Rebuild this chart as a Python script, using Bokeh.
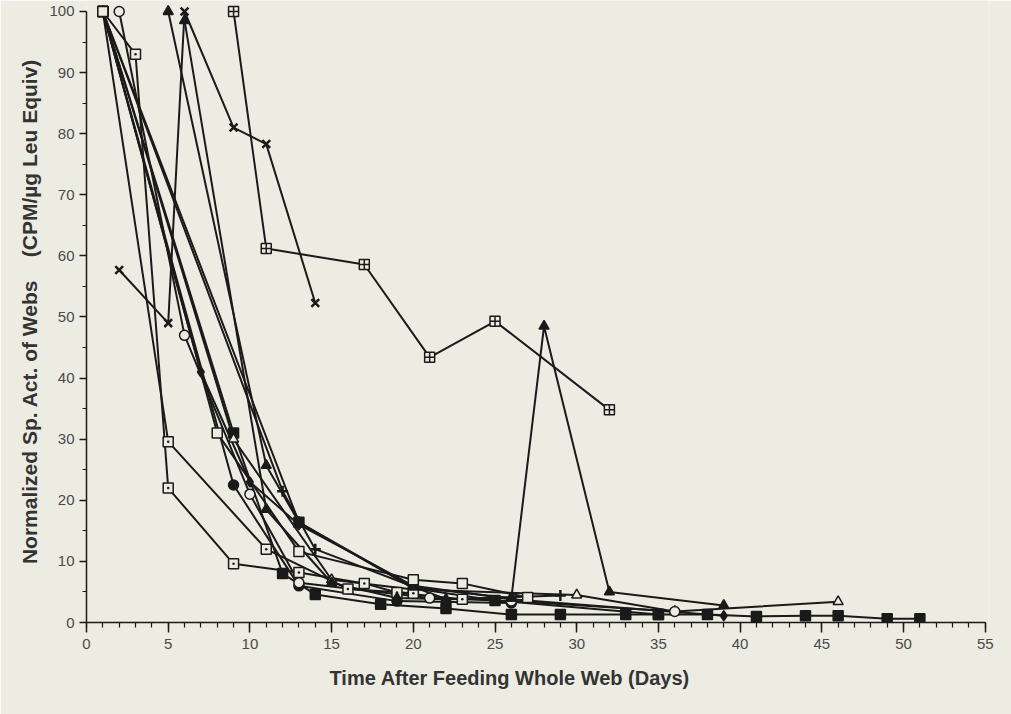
from bokeh.plotting import figure
from bokeh.models import Range1d, SingleIntervalTicker
from bokeh.embed import file_html
from bokeh.resources import INLINE

# ---- data ----
open_sq_x = [1, 8, 13, 20, 23, 27]
open_sq_y = [100, 31, 11.6, 7, 6.4, 4.1]

filled_sq_a_x = [1, 9, 12, 14, 18, 22, 26, 29, 33, 35]
filled_sq_a_y = [100, 31, 8, 4.6, 3, 2.3, 1.3, 1.3, 1.3, 1.3]

filled_sq_b_x = [1, 13, 20, 25, 35, 38, 41, 44, 46, 49, 51]
filled_sq_b_y = [100, 16.4, 5.6, 3.6, 1.3, 1.3, 1.0, 1.1, 1.1, 0.6, 0.6]

filled_dia_x = [1, 7, 10, 13, 20, 26, 39]
filled_dia_y = [100, 41, 23, 16, 6, 3.8, 1.1]

open_circ_x = [2, 6, 10, 13, 21, 26, 36]
open_circ_y = [100, 47, 21, 6.5, 4, 3.5, 1.8]

dot_sq_a_x = [1, 5, 11, 16, 20]
dot_sq_a_y = [100, 29.6, 12, 5.5, 4.8]

dot_sq_b_x = [1, 3, 5, 9, 13, 17, 19, 23]
dot_sq_b_y = [100, 93, 22, 9.6, 8.2, 6.4, 4.9, 3.8]

filled_tri_x = [5, 11, 13, 20, 26, 28, 32, 39]
filled_tri_y = [100, 25.7, 16.4, 5.8, 4, 48.5, 5, 2.8]

star_x = [2, 5, 6, 9, 11, 14]
star_y = [57.7, 49, 100, 81, 78.3, 52.3]

grid_sq_x = [9, 11, 17, 21, 25, 32]
grid_sq_y = [100, 61.2, 58.6, 43.4, 49.3, 34.8]

filled_tri2_x = [6, 11, 15, 19, 22, 26]
filled_tri2_y = [98.5, 18.5, 6.5, 4, 3.8, 4]

plus_x = [1, 12, 14, 22, 29]
plus_y = [100, 21.5, 12, 3.8, 4.4]

open_tri_x = [1, 9, 15, 20, 30, 36, 46]
open_tri_y = [100, 30, 7, 5.4, 4.5, 1.8, 3.4]

filled_circ_x = [1, 9, 13, 19, 26]
filled_circ_y = [100, 22.5, 6, 3.5, 3.2]

x_ticks_interval = 5
y_ticks_interval = 10
x_label = "Time After Feeding Whole Web (Days)" + "\u00a0" * 10
y_label = "Normalized Sp. Act. of Webs\u00a0\u00a0\u00a0\u00a0(CPM/\u00b5g Leu Equiv)"

BG = "#edece2"
INK = "#1a1a1a"
FONT = "Liberation Sans"

p = figure(width=1011, height=714, output_backend="svg", toolbar_location=None,
           x_range=Range1d(0, 55.2), y_range=Range1d(0, 101.8),
           min_border_left=86, min_border_right=23, min_border_top=0,
           min_border_bottom=92, background_fill_color=BG, border_fill_color=BG,
           outline_line_color=None)
p.grid.visible = False

# drawn in this order; the open square series is drawn last so it sits on top at day 1
series = [
    (filled_sq_a_x, filled_sq_a_y, "square", INK),
    (filled_sq_b_x, filled_sq_b_y, "square", INK),
    (filled_dia_x, filled_dia_y, "diamond", INK),
    (filled_circ_x, filled_circ_y, "circle", INK),
    (plus_x, plus_y, "cross", INK),
    (open_tri_x, open_tri_y, "triangle", BG),
    (dot_sq_a_x, dot_sq_a_y, "square_dot", BG),
    (dot_sq_b_x, dot_sq_b_y, "square_dot", BG),
    (open_circ_x, open_circ_y, "circle", BG),
    (filled_tri_x, filled_tri_y, "triangle", INK),
    (filled_tri2_x, filled_tri2_y, "triangle", INK),
    (star_x, star_y, "x", INK),
    (grid_sq_x, grid_sq_y, "square_cross", BG),
    (open_sq_x, open_sq_y, "square", BG),
]

for xs, ys, mk, fc in series:
    p.line(xs, ys, line_color=INK, line_width=2)
for xs, ys, mk, fc in series:
    size = 11 if mk in ("x", "cross") else 10
    lw = 2.5 if mk in ("x", "cross") else 1.5
    p.scatter(xs, ys, marker=mk, size=size, fill_color=fc, line_color=INK, line_width=lw)

# axes
p.xaxis.ticker = SingleIntervalTicker(interval=x_ticks_interval, num_minor_ticks=5)
p.yaxis.ticker = SingleIntervalTicker(interval=y_ticks_interval, num_minor_ticks=2)
p.xaxis.bounds = (0, 55)
p.yaxis.bounds = (0, 100)
for ax in (p.xaxis[0], p.yaxis[0]):
    ax.axis_line_color = INK
    ax.axis_line_width = 1.5
    ax.major_tick_line_color = INK
    ax.minor_tick_line_color = INK
    ax.major_tick_line_width = 1.5
    ax.minor_tick_line_width = 1.2
    ax.major_tick_in = 0
    ax.minor_tick_in = 0
    ax.major_label_text_font = FONT
    ax.major_label_text_font_size = "15px"
    ax.major_label_text_color = "#4a4a4a"
    ax.axis_label_text_font = FONT
    ax.axis_label_text_font_style = "bold"
    ax.axis_label_text_color = "#333333"

p.xaxis.axis_label_text_font_size = "20px"
p.yaxis.axis_label_text_font_size = "21px"
p.xaxis.major_tick_out = 10
p.xaxis.minor_tick_out = 5
p.yaxis.major_tick_out = 7
p.yaxis.minor_tick_out = 4
p.xaxis.major_label_standoff = 6
p.yaxis.major_label_standoff = 5
p.xaxis.axis_label = x_label
p.yaxis.axis_label = y_label
p.xaxis.axis_label_standoff = 15
p.yaxis.axis_label_standoff = 5

html = file_html(p, INLINE)
html = html.replace("<body>", '<body style="background-color:%s">' % BG, 1)
open("out.html", "w").write(html)
